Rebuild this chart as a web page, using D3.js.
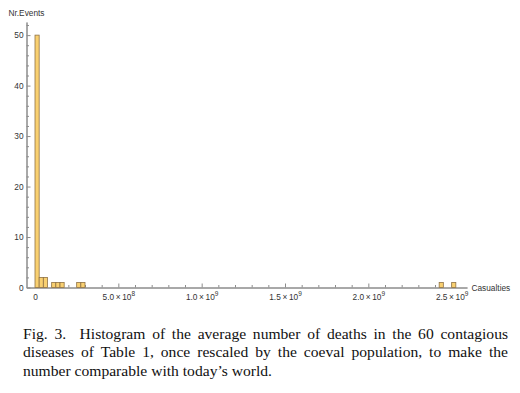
<!DOCTYPE html>
<html>
<head>
<meta charset="utf-8">
<script src="https://cdn.jsdelivr.net/npm/d3@7"></script>
<style>
  body { margin: 0; background: #fff; }
  #chart { position: absolute; left: 0; top: 0; }
  .caption {
    position: absolute; left: 23px; top: 325px; width: 485px;
    font-family: "Liberation Serif", "DejaVu Serif", serif;
    font-size: 15.6px; line-height: 18.3px; color: #111;
  }
  .caption .j { text-align: justify; text-align-last: justify; white-space: nowrap; }
  .tick text { font-family: "Liberation Sans", Arial, sans-serif; }
</style>
</head>
<body>
<div id="chart"></div>
<div class="caption" id="caption"></div>
<script>
// histogram bins (bin start in number of casualties) and counts
var binStarts = [0, 2.5e7, 5e7, 1e8, 1.25e8, 1.5e8, 2.5e8, 2.75e8, 2.425e9, 2.5e9];
var counts = [50, 2, 2, 1, 1, 1, 1, 1, 1, 1];
var binWidth = 2.5e7;

var xMajor = [0, 5e8, 1e9, 1.5e9, 2e9, 2.5e9];
var xMajorLabels = ["0", "5.0\u2009×\u200910|8", "1.0\u2009×\u200910|9", "1.5\u2009×\u200910|9", "2.0\u2009×\u200910|9", "2.5\u2009×\u200910|9"];
var yMajor = [0, 10, 20, 30, 40, 50];

var captionLines = [
    "Fig. 3.\u00a0\u00a0Histogram of the average number of deaths in the 60 contagious",
    "diseases of Table 1, once rescaled by the coeval population, to make the",
    "number comparable with today\u2019s world."
];

var svg = d3.select("#chart")
    .append("svg")
    .attr("width", 520)
    .attr("height", 393);

var x = d3.scaleLinear().domain([-5.1e7, 2.592e9]).range([26.5, 467]);
var y = d3.scaleLinear().domain([0, 52.6]).range([287.5, 22]);

var axisColor = "#8c8c8c";

// minor ticks
var xMinor = d3.range(0, 2.6e9, 1e8).filter(function (v) { return v % 5e8 !== 0; });
var yMinor = d3.range(0, 53, 2).filter(function (v) { return v % 10 !== 0; });

var gx = svg.append("g").attr("transform", "translate(0," + y(0) + ")");
gx.append("g")
    .call(d3.axisBottom(x).tickValues(xMinor).tickSizeInner(-2.5).tickSizeOuter(0).tickFormat(""));
gx.append("g")
    .call(d3.axisBottom(x).tickValues(xMajor).tickSizeInner(-4).tickSizeOuter(0).tickPadding(6.5)
        .tickFormat(function (d, i) { return xMajorLabels[i]; }));
gx.selectAll("path.domain").attr("stroke", axisColor);
gx.selectAll(".tick line").attr("stroke", axisColor);

// superscripts on x labels
gx.selectAll(".tick text")
    .attr("fill", "#333")
    .attr("font-size", 8.3)
    .each(function () {
        var t = d3.select(this);
        var parts = t.text().split("|");
        if (parts.length < 2) return;
        t.text(parts[0]);
        t.append("tspan").attr("dy", -3.8).attr("font-size", 6.5).text(parts[1]);
    });

var gy = svg.append("g").attr("transform", "translate(" + x.range()[0] + ",0)");
gy.append("g")
    .call(d3.axisLeft(y).tickValues(yMinor).tickSizeInner(-2.5).tickSizeOuter(0).tickFormat(""));
gy.append("g")
    .call(d3.axisLeft(y).tickValues(yMajor).tickSizeInner(-4).tickSizeOuter(0).tickPadding(3));
gy.selectAll("path.domain").attr("stroke", axisColor);
gy.selectAll(".tick line").attr("stroke", axisColor);
gy.selectAll(".tick text").attr("fill", "#333").attr("font-size", 8.3);

// bars
svg.append("g")
    .selectAll("rect")
    .data(binStarts)
    .enter()
    .append("rect")
    .attr("x", function (d) { return x(d); })
    .attr("y", function (d, i) { return y(counts[i]); })
    .attr("width", function (d) { return x(d + binWidth) - x(d); })
    .attr("height", function (d, i) { return y(0) - y(counts[i]); })
    .attr("fill", "#f9d070")
    .attr("stroke", "#8f7245")
    .attr("stroke-width", 0.8);

// axis labels
svg.append("text")
    .attr("x", x.range()[0])
    .attr("y", 15.5)
    .attr("text-anchor", "middle")
    .attr("font-family", "Liberation Sans, Arial, sans-serif")
    .attr("font-size", 8.3)
    .attr("fill", "#333")
    .text("Nr.Events");

svg.append("text")
    .attr("x", 471.5)
    .attr("y", y(0) + 3)
    .attr("font-family", "Liberation Sans, Arial, sans-serif")
    .attr("font-size", 8.3)
    .attr("fill", "#333")
    .text("Casualties");

// caption
d3.select("#caption")
    .selectAll("div")
    .data(captionLines)
    .enter()
    .append("div")
    .attr("class", function (d, i) { return i < captionLines.length - 1 ? "j" : ""; })
    .text(function (d) { return d; });
</script>
</body>
</html>
